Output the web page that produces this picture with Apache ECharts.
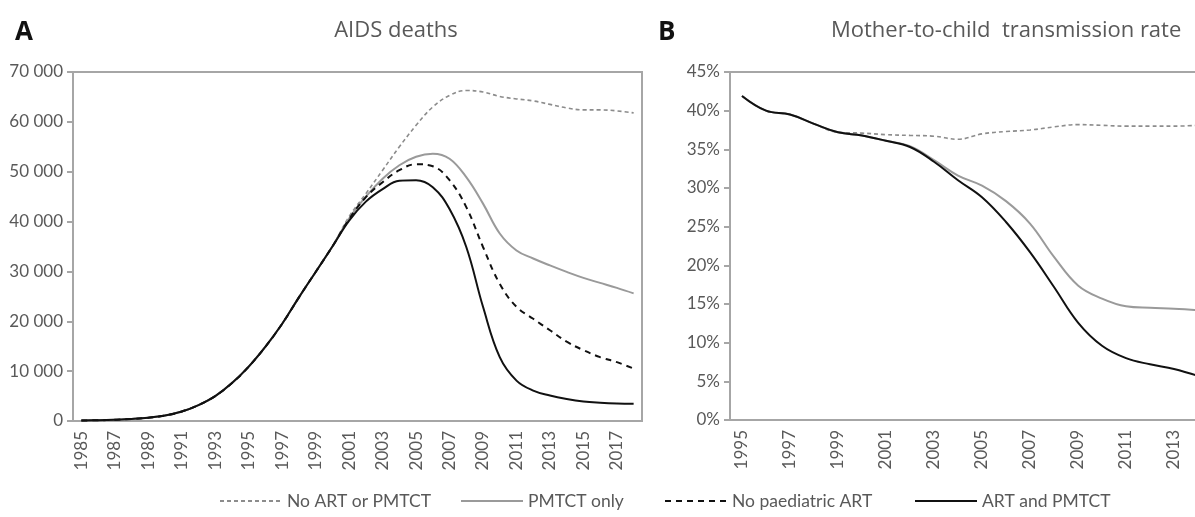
<!DOCTYPE html>
<html>
<head>
<meta charset="utf-8">
<script src="https://cdn.jsdelivr.net/npm/echarts@6/dist/echarts.min.js"></script>
<style>
html,body{margin:0;padding:0;background:#fff;overflow:hidden;}
#chart{width:1230px;height:517px;}
</style>
</head>
<body>
<div id="chart"></div>
<script>
// ---- Panel A: AIDS deaths, 1985-2018 ----
const yearsA = ['1985','1986','1987','1988','1989','1990','1991','1992','1993','1994','1995','1996','1997','1998','1999','2000','2001','2002','2003','2004','2005','2006','2007','2008','2009','2010','2011','2012','2013','2014','2015','2016','2017','2018'];
const earlyA = [100,150,250,400,650,1100,1900,3200,5000,7600,10900,14900,19500,24800,29900,35000];
const noArtNoPmtctA = earlyA.concat([41000,45600,50300,55000,59300,63000,65300,66300,66000,65100,64600,64200,63500,62800,62400,62400,62200,61800]);
const pmtctOnlyA    = earlyA.concat([40600,45000,48600,51300,53000,53600,52600,48900,43600,37600,34200,32600,31200,29900,28700,27700,26700,25600]);
const noPaedArtA    = earlyA.concat([40500,44900,47900,50300,51500,51100,48300,42900,34900,27500,22900,20500,18200,15900,14200,12800,11800,10500]);
const artPmtctA     = earlyA.concat([40200,44000,46500,48200,48300,46900,42500,34900,22900,12800,8100,6100,5100,4400,3900,3650,3500,3450]);

// ---- Panel B: Mother-to-child transmission rate (%), 1995-2014 ----
const yearsB = ['1995','1996','1997','1998','1999','2000','2001','2002','2003','2004','2005','2006','2007','2008','2009','2010','2011','2012','2013','2014'];
const noArtNoPmtctB = [41.9,40.0,39.5,38.3,37.2,37.1,36.9,36.8,36.7,36.3,37.0,37.3,37.5,37.9,38.2,38.1,38.0,38.0,38.0,38.1];
const pmtctOnlyB    = [41.9,40.0,39.5,38.3,37.2,36.8,36.1,35.4,33.6,31.6,30.3,28.3,25.4,21.1,17.4,15.7,14.7,14.5,14.4,14.2];
const artPmtctB     = [41.9,40.0,39.5,38.3,37.2,36.8,36.1,35.3,33.4,31.0,28.8,25.6,21.7,17.2,12.6,9.6,8.0,7.2,6.6,5.7];

const seriesNames = ['No ART or PMTCT','PMTCT only','No paediatric ART','ART and PMTCT'];

const axisGrey = '#a6a6a6';
const textGrey = '#595959';
const FONT = 'Lato, "Open Sans", sans-serif';
const TFONT = '"Open Sans", Lato, sans-serif';

const styles = {
  'No ART or PMTCT':   {color:'#8c8c8c', width:1.6, type:[4,3]},
  'PMTCT only':        {color:'#9a9a9a', width:2,   type:'solid'},
  'No paediatric ART': {color:'#111111', width:2,   type:[6,5]},
  'ART and PMTCT':     {color:'#111111', width:2,   type:'solid'}
};

function mk(name, data, gi, z){
  const s = styles[name];
  return {
    name: name, type:'line', xAxisIndex: gi, yAxisIndex: gi, data: data,
    smooth: 0.4, symbol:'none', symbolSize:0, z: z,
    lineStyle:{color:s.color, width:s.width, type:s.type},
    itemStyle:{color:s.color}
  };
}

const xAxisCommon = {
  type:'category', boundaryGap:true,
  axisLine:{lineStyle:{color:axisGrey, width:2}},
  axisTick:{show:false},
  axisLabel:{rotate:90, interval:1, color:textGrey, fontSize:17, fontFamily:FONT, margin:10},
  splitLine:{show:false}
};
const yAxisCommon = {
  type:'value',
  axisLine:{show:true, lineStyle:{color:axisGrey, width:2}},
  axisTick:{show:true, length:6, lineStyle:{color:axisGrey, width:2}},
  splitLine:{show:false},
  axisLabel:{color:textGrey, fontSize:17, fontFamily:FONT, margin:10}
};

const legendLefts = [214, 455, 659, 909];
const legends = seriesNames.map((n, i) => ({
  bottom:2, left:legendLefts[i], itemWidth:62, itemHeight:14,
  data:[n], itemStyle:{opacity:0},
  textStyle:{color:textGrey, fontSize:17.5, fontFamily:FONT}
}));

const chart = echarts.init(document.getElementById('chart'));
chart.setOption({
  animation:false,
  backgroundColor:'#fff',
  title:[
    {text:'A', left:10, top:15, textStyle:{fontSize:26, fontWeight:'bold', color:'#111', fontFamily:TFONT}},
    {text:'AIDS deaths', left:391, top:15, textAlign:'center', textStyle:{fontSize:22, fontWeight:'normal', color:textGrey, fontFamily:TFONT}},
    {text:'B', left:653, top:15, textStyle:{fontSize:26, fontWeight:'bold', color:'#111', fontFamily:TFONT}},
    {text:'Mother-to-child  transmission rate', left:826, top:15, textStyle:{fontSize:22, fontWeight:'normal', color:textGrey, fontFamily:TFONT}}
  ],
  grid:[
    {left:73, top:72, width:569, height:349, show:true, borderColor:axisGrey, borderWidth:2, containLabel:false},
    {left:730, top:72, width:480, height:348, show:true, borderColor:axisGrey, borderWidth:2, containLabel:false}
  ],
  legend: legends,
  xAxis:[
    Object.assign({}, xAxisCommon, {gridIndex:0, data:yearsA}),
    Object.assign({}, xAxisCommon, {gridIndex:1, data:yearsB})
  ],
  yAxis:[
    Object.assign({}, yAxisCommon, {gridIndex:0, min:0, max:70000, interval:10000,
      axisLabel:Object.assign({}, yAxisCommon.axisLabel, {formatter:v => String(v).replace(/\B(?=(\d{3})+(?!\d))/g,' ')})}),
    Object.assign({}, yAxisCommon, {gridIndex:1, min:0, max:45, interval:5,
      axisLabel:Object.assign({}, yAxisCommon.axisLabel, {formatter:v => v + '%'})})
  ],
  series:[
    mk('No ART or PMTCT', noArtNoPmtctA, 0, 1),
    mk('PMTCT only', pmtctOnlyA, 0, 2),
    mk('No paediatric ART', noPaedArtA, 0, 3),
    mk('ART and PMTCT', artPmtctA, 0, 4),
    mk('No ART or PMTCT', noArtNoPmtctB, 1, 1),
    mk('PMTCT only', pmtctOnlyB, 1, 2),
    mk('ART and PMTCT', artPmtctB, 1, 4)
  ]
});
</script>
</body>
</html>
